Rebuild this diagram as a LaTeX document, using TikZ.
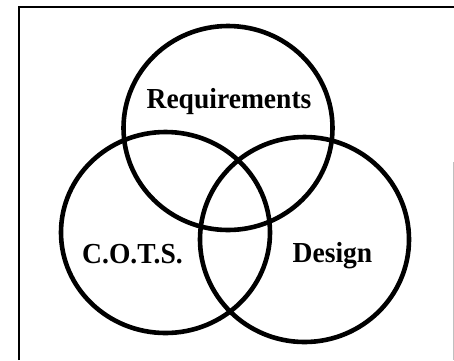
\documentclass[tikz,border=0pt]{standalone}
\usepackage{fontspec}
\setmainfont{Liberation Serif}
\newfontfamily\vennfont{Liberation Serif}[FakeStretch=0.95]
\usetikzlibrary{shapes.geometric}
\begin{document}
\begin{tikzpicture}[x=1pt,y=-1pt,
  setcircle/.style={draw=black,line width=4.6pt,ellipse,inner sep=0pt,outer sep=0pt},
  setlabel/.style={font=\vennfont\fontsize{29}{31}\selectfont\bfseries,inner sep=0pt,anchor=base},
  frameline/.style={draw=black,line width=2pt}]
\useasboundingbox (0,0) rectangle (454,360);
\fill[white] (0,0) rectangle (454,360);
% frame
\coordinate (fbl) at (19,360);
\coordinate (ftl) at (19,7);
\coordinate (ftr) at (454,7);
\draw[frameline] (fbl) -- (ftl) -- (ftr);
\coordinate (rt) at (453,162);
\coordinate (rb) at (453,360);
\draw[gray!50,line width=0.8pt] (rt) -- (rb);
% circles
\node[setcircle,minimum width=209pt,minimum height=204pt] (req) at (228,128) {};
\node[setcircle,minimum width=209pt,minimum height=201pt] (cots) at (165.5,232.5) {};
\node[setcircle,minimum width=209pt,minimum height=205pt] (des) at (304.5,239.5) {};
% labels
\node[setlabel] (lreq) at (229,108) {Requirements};
\node[setlabel] (lcots) at (132.5,263) {C.O.T.S.};
\node[setlabel] (ldes) at (332.5,262) {Design};
\end{tikzpicture}
\end{document}
